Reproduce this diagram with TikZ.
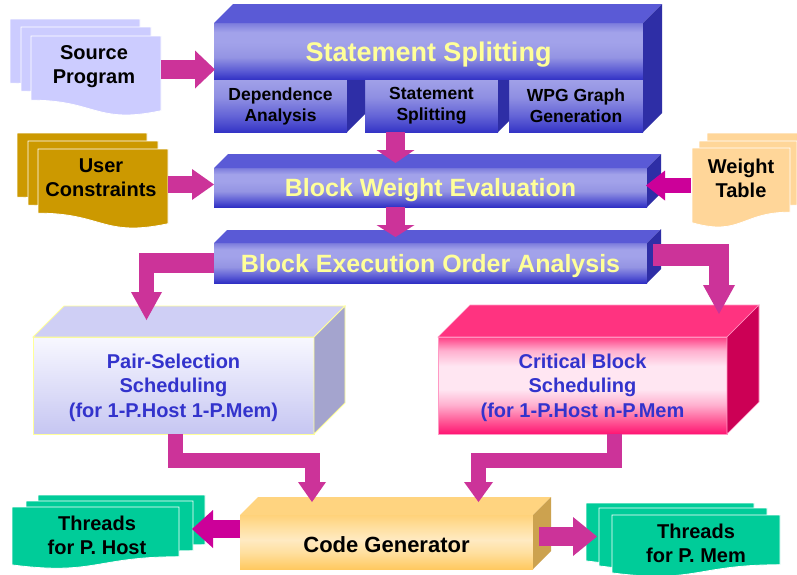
\documentclass[tikz,border=0pt]{standalone}
\usepackage{fontspec}
\setmainfont{Liberation Sans}
\usetikzlibrary{arrows.meta,calc}
\definecolor{aC}{HTML}{CC3399}
\definecolor{aM}{HTML}{CC0099}
\definecolor{ttlY}{HTML}{FFFF99}
\definecolor{btxt}{HTML}{3333CC}
\definecolor{srcF}{HTML}{CCCCFF}
\definecolor{ucF}{HTML}{CC9900}
\definecolor{wtF}{HTML}{FFD699}
\definecolor{thF}{HTML}{00CC99}
\definecolor{bTop}{HTML}{5A5AD6}
\definecolor{bSide}{HTML}{2E2EA6}
\definecolor{bq1}{HTML}{3030C4}
\definecolor{bq2}{HTML}{5A5AD4}
\definecolor{bq3}{HTML}{9494E3}
\definecolor{bq4}{HTML}{A2A2EA}
\definecolor{bq5}{HTML}{7C7CDC}
\definecolor{sq1}{HTML}{3434C6}
\definecolor{sq2}{HTML}{6262D6}
\definecolor{sq3}{HTML}{8E8EE2}
\definecolor{sq4}{HTML}{A0A0E8}
\definecolor{pTop}{HTML}{CFCFF5}
\definecolor{pSide}{HTML}{A4A4CE}
\definecolor{pq1}{HTML}{C6C6F2}
\definecolor{pq2}{HTML}{F8F8FF}
\definecolor{kTop}{HTML}{FF3380}
\definecolor{kSide}{HTML}{CC0055}
\definecolor{kq1}{HTML}{FF1472}
\definecolor{kq2}{HTML}{FF5C98}
\definecolor{kq3}{HTML}{FFB0CF}
\definecolor{kq4}{HTML}{FFE6F2}
\definecolor{kq5}{HTML}{FF3F85}
\definecolor{kEdge}{HTML}{FF99C4}
\definecolor{oTop}{HTML}{FFD480}
\definecolor{oSide}{HTML}{CCA24F}
\definecolor{oq1}{HTML}{FFC960}
\definecolor{oq2}{HTML}{FFDF9E}
\definecolor{oq3}{HTML}{FFEAC2}
\definecolor{oq4}{HTML}{FFD27A}
\pgfdeclareverticalshading{blueT}{100bp}{color(0bp)=(bq1); color(25bp)=(bq1); color(33bp)=(bq2); color(45bp)=(bq3); color(58bp)=(bq4); color(67bp)=(bq4); color(75bp)=(bq5); color(100bp)=(bq5)}
\pgfdeclareverticalshading{subS}{100bp}{color(0bp)=(sq1); color(25bp)=(sq1); color(40bp)=(sq2); color(58bp)=(sq3); color(75bp)=(sq4); color(100bp)=(sq4)}
\pgfdeclareverticalshading{pinkS}{100bp}{color(0bp)=(kq1); color(25bp)=(kq1); color(32bp)=(kq2); color(40bp)=(kq3); color(48bp)=(kq4); color(60bp)=(kq4); color(68bp)=(kq3); color(75bp)=(kq5); color(100bp)=(kq5)}
\pgfdeclareverticalshading{orangeS}{100bp}{color(0bp)=(oq1); color(25bp)=(oq1); color(40bp)=(oq2); color(52bp)=(oq3); color(64bp)=(oq2); color(75bp)=(oq4); color(100bp)=(oq4)}
\newcommand\docN[5]{\filldraw[fill=#5,draw=white,line width=0.8pt] (#1,#2) -- ++(#3,0) -- ++(0,{0.802*#4}) .. controls +({-0.5*#3},0) and +({0.5*#3},{0.1735*#4}) .. (#1,{#2+0.934*#4}) -- cycle;}
\newcommand\docM[5]{\filldraw[fill=#5,draw=white,line width=0.8pt] (#1,#2) -- ++(#3,0) -- ++(0,{0.934*#4}) .. controls +({-0.5*#3},{0.1735*#4}) and +({0.5*#3},0) .. (#1,{#2+0.802*#4}) -- cycle;}
\newcommand\cubetop[3]{\path[#3] (#1.north west) -- ++(#2,-#2) -- ([shift={(#2,-#2)}]#1.north east) -- (#1.north east) -- cycle;}
\newcommand\cubeside[3]{\path[#3] (#1.north east) -- ++(#2,-#2) -- ([shift={(#2,-#2)}]#1.south east) -- (#1.south east) -- cycle;}
\begin{document}
\begin{tikzpicture}[x=1pt,y=-1pt,
  face/.style={inner sep=0pt,outer sep=0pt,anchor=north west,align=center},
  ttl/.style={text=ttlY,text depth=0pt,font=\bfseries\fontsize{25pt}{28pt}\selectfont},
  subt/.style={text=black,font=\bfseries\fontsize{17.5pt}{21pt}\selectfont},
  bluet/.style={text=btxt,text depth=0pt,font=\bfseries\fontsize{20pt}{24.5pt}\selectfont},
  doct/.style={align=center,text=black,inner sep=0pt,font=\bfseries\fontsize{20pt}{24pt}\selectfont},
  arr/.style args={#1/#2/#3}{line width=#1pt,-{Triangle[width=#2pt,length=#3pt,line width=0pt]}}]
\fill[white] (0,0) rectangle (797,574);
\useasboundingbox (0,0) rectangle (797,574);
% document stacks
\docM{10}{19}{130}{80}{srcF}\docM{21}{27}{130}{80}{srcF}\docM{31}{36}{130}{80}{srcF}
\docM{17}{133}{130}{80}{ucF}\docM{28}{141}{130}{80}{ucF}\docM{38}{149}{130}{80}{ucF}
\docN{707}{133}{98}{80}{wtF}\docN{699}{141}{98}{80}{wtF}\docN{692}{148}{98}{80}{wtF}
\docN{38}{495}{167}{62}{thF}\docN{26}{501}{167}{62}{thF}\docN{12}{507}{167}{62}{thF}
\docN{586}{503}{168}{62}{thF}\docN{599}{508}{168}{62}{thF}\docN{612}{515}{168}{62}{thF}
\node[doct] (srcT) at (94,67) {Source\\Program};
\node[doct] (ucT) at (101,178) {User\\Constraints};
\node[doct] (wtT) at (741,178) {Weight\\Table};
\node[doct] (thH) at (97,535) {Threads\\for P. Host};
\node[doct] (thM) at (696,543) {Threads\\for P. Mem};
% statement splitting block
\node[face,shading=blueT,ttl,font=\bfseries\fontsize{27pt}{30pt}\selectfont,minimum width=429pt,minimum height=57pt] (ssT) at (214,23) {Statement Splitting};
\node[face,shading=subS,subt,minimum width=133pt,minimum height=52pt] (dep) at (214,80) {Dependence\\Analysis};
\node[face,shading=subS,subt,minimum width=133pt,minimum height=52pt] (spl) at (365,80) {Statement\\Splitting};
\node[face,shading=subS,subt,minimum width=134pt,minimum height=52pt] (wpg) at (509,80) {WPG Graph\\Generation};
\cubetop{ssT}{19}{fill=bTop}
\path[fill=bSide] (ssT.north east) -- ++(19,-19) -- ([shift={(19,-19)}]wpg.south east) -- (wpg.south east) -- cycle;
\path[fill=bSide] (dep.north east) -- (spl.north west) -- ([shift={(0,-18)}]spl.south west) -- (dep.south east) -- cycle;
\path[fill=bSide] (spl.north east) -- (wpg.north west) -- ([shift={(0,-11)}]wpg.south west) -- (spl.south east) -- cycle;
% block weight evaluation
\node[face,shading=blueT,ttl,minimum width=433pt,minimum height=39pt] (bwe) at (214,168) {Block Weight Evaluation};
\cubetop{bwe}{14}{fill=bTop}\cubeside{bwe}{14}{fill=bSide}
% block execution order analysis
\node[face,shading=blueT,ttl,minimum width=433pt,minimum height=40pt] (beoa) at (214,243) {Block Execution Order Analysis};
\cubetop{beoa}{13}{fill=bTop}\cubeside{beoa}{14}{fill=bSide}
% pair selection
\node[face,top color=pq2,bottom color=pq1,draw=ttlY,line width=0.8pt,bluet,minimum width=281pt,minimum height=97pt] (pair) at (33,337) {Pair-Selection\\Scheduling\\(for 1-P.Host 1-P.Mem)};
\cubetop{pair}{31}{fill=pTop,draw=ttlY,line width=0.8pt}
\cubeside{pair}{31}{fill=pSide,draw=ttlY,line width=0.8pt}
% critical block
\node[face,shading=pinkS,draw=kEdge,line width=0.6pt,bluet,minimum width=289pt,minimum height=97pt] (crit) at (438,337) {Critical Block\\Scheduling\\(for 1-P.Host n-P.Mem};
\cubetop{crit}{32}{fill=kTop,draw=kEdge,line width=0.6pt}
\cubeside{crit}{32}{fill=kSide,draw=kEdge,line width=0.6pt}
% code generator
\node[face,shading=orangeS,text=black,text height=20pt,text depth=0pt,font=\bfseries\fontsize{22pt}{26pt}\selectfont,minimum width=293pt,minimum height=54pt] (cg) at (240,515) {Code Generator};
\cubetop{cg}{18}{fill=oTop}\cubeside{cg}{18}{fill=oSide}
% arrows
\draw[aC,arr={19/38/20}] (161,69.5) -- (215,69.5);
\draw[aC,arr={19/38/13}] (395.5,132) -- (395.5,163);
\draw[aC,arr={19/38/12}] (395.5,207) -- (395.5,237);
\draw[aC,arr={17/31/22}] (168,184.5) -- (214,184.5);
\draw[aM,arr={15/30/19}] (691,185.5) -- (646,185.5);
\draw[aC,line width=20pt] (214,263) -- (139,263);
\draw[aC,arr={15/31/28}] (146.5,253) -- (146.5,320);
\draw[aC,line width=22pt] (653,255) -- (729,255);
\draw[aC,arr={20/32/29}] (719,244) -- (719,314);
\draw[aC,arr={15/28/20},line join=miter] (175.5,434) -- (175.5,460.5) -- (312,460.5) -- (312,502);
\draw[aC,arr={15/29/20},line join=miter] (614.5,434) -- (614.5,460.5) -- (478.5,460.5) -- (478.5,502);
\draw[aM,arr={18/38/21}] (240,529) -- (192,529);
\draw[aC,arr={19/39/24}] (539,536.5) -- (597,536.5);
\end{tikzpicture}
\end{document}
